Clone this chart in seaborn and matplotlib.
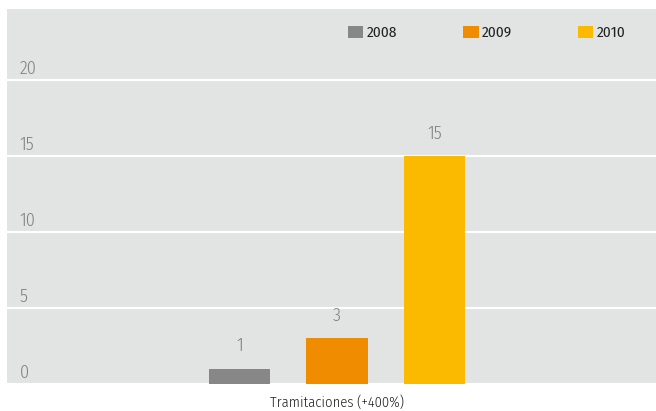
import matplotlib
matplotlib.use("Agg")
import matplotlib.pyplot as plt
import seaborn as sns
import pandas as pd

categories = ["Tramitaciones (+400%)"]
years = ["2008", "2009", "2010"]
values = [1, 3, 15]
colors = ["#878787", "#F08C00", "#FBBA00"]
yticks = [0, 5, 10, 15, 20]

sns.set_theme(style="white")
plt.rcParams["font.family"] = ["Fira Sans Condensed", "DejaVu Sans"]

df = pd.DataFrame({"cat": categories * len(years), "year": years, "value": values})

fig = plt.figure(figsize=(6.56, 4.11), dpi=100)
ax = fig.add_axes([7 / 656, 27 / 411, 649 / 656, 375 / 411])
ax.set_facecolor("#E2E3E3")

sns.barplot(data=df, x="cat", y="value", hue="year", palette=colors, saturation=1,
            width=0.8, gap=0.37, ax=ax, legend=True, zorder=3, linewidth=0)

ax.set_ylim(0, 24.7)
ax.set_xlim(-0.902, 0.873)
ax.set_yticks(yticks)
ax.set_yticklabels([])
ax.tick_params(axis="y", length=0)
ax.tick_params(axis="x", length=0, labelsize=10.5, colors="#222222", pad=8)
for lab in ax.get_xticklabels():
    lab.set_fontweight(300)
ax.grid(axis="y", color="white", linewidth=1.5, zorder=1)
ax.set_axisbelow(True)
ax.set_xlabel("")
ax.set_ylabel("")
for s in ax.spines.values():
    s.set_visible(False)

for t in yticks:
    ax.annotate(str(t), xy=(0, t), xycoords=("axes fraction", "data"),
                xytext=(9, 2), textcoords="offset points", fontweight=300,
                ha="left", va="bottom", fontsize=13, color="#808080")

for c in ax.containers:
    ax.bar_label(c, padding=10, fontsize=13, color="#808080", fontweight=300)

h, l = ax.get_legend_handles_labels()
leg = ax.legend(h, l, loc="upper right", bbox_to_anchor=(1.0 - 14 / 649, 1.0), ncol=3,
                frameon=False, fontsize=11, handlelength=1.0, handleheight=0.9,
                handletextpad=0.2, columnspacing=4.34, borderaxespad=0.7,
                labelcolor="#222222")

fig.savefig("out.png", dpi=100)
